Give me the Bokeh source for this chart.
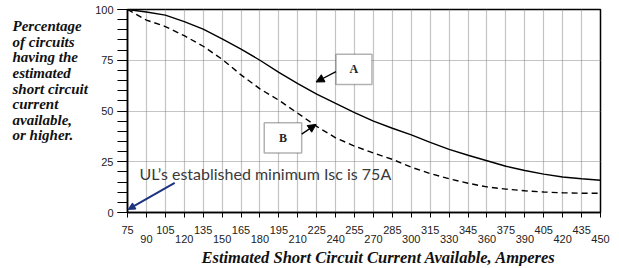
from bokeh.plotting import figure
from bokeh.layouts import row
from bokeh.models import (FixedTicker, LinearAxis, Label, Arrow, NormalHead,
                          BoxAnnotation, Range1d, ColumnDataSource, Title)
from bokeh.embed import file_html
from bokeh.resources import INLINE

# ---- data ----
current = [75, 90, 105, 120, 135, 150, 165, 180, 195, 210, 225, 240, 255,
           270, 285, 300, 315, 330, 345, 360, 375, 390, 405, 420, 435, 450]
pct_a = [100, 98.8, 97.2, 94.0, 90.3, 85.5, 80.5, 75.0, 69.0, 63.5, 58.3, 53.7,
         49.2, 45.0, 41.5, 38.2, 34.5, 31.1, 28.2, 25.5, 22.8, 20.7, 18.9,
         17.5, 16.6, 15.9]
pct_b = [100, 94.8, 91.6, 87.1, 81.9, 75.5, 67.8, 60.9, 55.3, 48.9, 42.4, 36.8,
         32.7, 29.3, 26.2, 22.3, 19.2, 16.6, 14.4, 12.6, 11.5, 10.7, 10.1,
         9.7, 9.5, 9.5]
y_ticks = [0, 25, 50, 75, 100]
y_minor = list(range(0, 101, 5))
x_ticks_row1 = [75, 105, 135, 165, 195, 225, 255, 285, 315, 345, 375, 405, 435]
x_ticks_row2 = [90, 120, 150, 180, 210, 240, 270, 300, 330, 360, 390, 420, 450]
y_title_lines = ["Percentage", "of circuits", "having the", "estimated",
                 "short circuit", "current", "available,", "or higher."]
x_title = "Estimated Short Circuit Current Available, Amperes"
note = "UL\u2019s established minimum Isc is 75A"

src = ColumnDataSource(dict(x=current, a=pct_a, b=pct_b))

PW, H = 92, 266
TOP, BOTTOM = 9, 49

# ---- left panel holding the multi-line y title (pixel-like ranges) ----
side = figure(width=PW, height=H, x_range=Range1d(0, PW), y_range=Range1d(H - BOTTOM, TOP),
              output_backend="svg", toolbar_location=None,
              min_border_left=0, min_border_right=0, min_border_top=TOP,
              min_border_bottom=BOTTOM)
side.axis.visible = False
side.grid.visible = False
side.outline_line_color = None
side.background_fill_color = "white"
side.border_fill_color = "white"
title_src = ColumnDataSource(dict(x=[12] * len(y_title_lines),
                                  y=[26 + 16 * i for i in range(len(y_title_lines))],
                                  t=y_title_lines))
side.text(x="x", y="y", text="t", source=title_src, text_align="left",
          text_baseline="middle", text_font="Liberation Serif",
          text_font_size="15px", text_font_style="bold italic", text_color="#111111")

# ---- main chart ----
p = figure(width=614 - PW, height=H, x_range=Range1d(75, 450), y_range=Range1d(0, 100),
           output_backend="svg", toolbar_location=None,
           min_border_left=126 - PW, min_border_right=14, min_border_top=TOP,
           min_border_bottom=BOTTOM)
p.background_fill_color = "white"
p.border_fill_color = "white"
p.outline_line_color = "black"
p.outline_line_width = 1.5

# grids
p.xgrid.ticker = FixedTicker(ticks=current)
p.ygrid.ticker = FixedTicker(ticks=[25, 50, 75])
for g in (p.xgrid, p.ygrid):
    g.grid_line_color = "#8a8a8a"
    g.grid_line_dash = "1 1"
    g.grid_line_width = 1.2

# y axis
ya = p.yaxis[0]
ya.ticker = FixedTicker(ticks=y_ticks, minor_ticks=y_minor)
ya.major_tick_out = 10
ya.major_tick_in = 0
ya.minor_tick_out = 10
ya.minor_tick_in = 0
ya.major_label_standoff = 4
ya.axis_line_width = 1.5
ya.major_tick_line_width = 1.2
ya.minor_tick_line_width = 1.2
ya.major_label_text_font = "Liberation Sans"
ya.major_label_text_font_size = "11px"
ya.major_label_text_color = "#222222"

# x axis, first row
xa = p.xaxis[0]
xa.ticker = FixedTicker(ticks=x_ticks_row1, minor_ticks=x_ticks_row2)
xa.major_tick_out = 5
xa.major_tick_in = 0
xa.minor_tick_out = 5
xa.minor_tick_in = 0
xa.major_label_standoff = 8
xa.axis_line_width = 1.5
xa.major_label_text_font = "Liberation Sans"
xa.major_label_text_font_size = "11px"
xa.major_label_text_color = "#222222"

# x axis, second row
xb = LinearAxis(ticker=FixedTicker(ticks=x_ticks_row2))
xb.major_tick_out = 0
xb.major_tick_in = 0
xb.minor_tick_out = 0
xb.minor_tick_in = 0
xb.axis_line_color = None
xb.major_label_standoff = -2
xb.major_label_text_font = "Liberation Sans"
xb.major_label_text_font_size = "11px"
xb.major_label_text_color = "#222222"
p.add_layout(xb, "below")

# x title
p.add_layout(Title(text=x_title, align="left", offset=74, standoff=0,
                   text_font="Liberation Serif", text_font_size="16.5px",
                   text_font_style="bold italic", text_color="#111111"), "below")

# curves
p.line("x", "a", source=src, line_color="black", line_width=1.4)
p.line("x", "b", source=src, line_color="black", line_width=1.4, line_dash="6 4")

# boxes with letters
p.add_layout(BoxAnnotation(left=240.3, right=268.8, bottom=63.0, top=78.0,
                           fill_color="white", fill_alpha=1.0,
                           line_color="black", line_width=1.5))
p.add_layout(BoxAnnotation(left=183.4, right=213.1, bottom=29.3, top=44.2,
                           fill_color="white", fill_alpha=1.0,
                           line_color="black", line_width=1.5))
for txt, xx, yy in (("A", 254.5, 70.5), ("B", 198.2, 36.7)):
    p.add_layout(Label(x=xx, y=yy, text=txt, text_align="center", text_baseline="middle",
                       text_font="Liberation Serif", text_font_size="12px",
                       text_font_style="bold", text_color="#222222"))

p.add_layout(Arrow(end=NormalHead(size=8, fill_color="black", line_color="black"),
                   x_start=240.3, y_start=69.4, x_end=224.5, y_end=64.3,
                   line_color="black", line_width=1.3))
p.add_layout(Arrow(end=NormalHead(size=8, fill_color="black", line_color="black"),
                   x_start=213.1, y_start=38.6, x_end=224.5, y_end=43.4,
                   line_color="black", line_width=1.3))

# UL note and blue arrow
p.add_layout(Label(x=84.5, y=19.4, text=note, text_align="left", text_baseline="middle",
                   text_font="Lato", text_font_size="16px", text_color="#3a3a3a"))
p.add_layout(Arrow(end=NormalHead(size=7, fill_color="#1c3380", line_color="#1c3380"),
                   x_start=112.4, y_start=14.6, x_end=75.5, y_end=1.5,
                   line_color="#1c3380", line_width=2))

layout = row(side, p)
open("out.html", "w").write(file_html(layout, INLINE))
